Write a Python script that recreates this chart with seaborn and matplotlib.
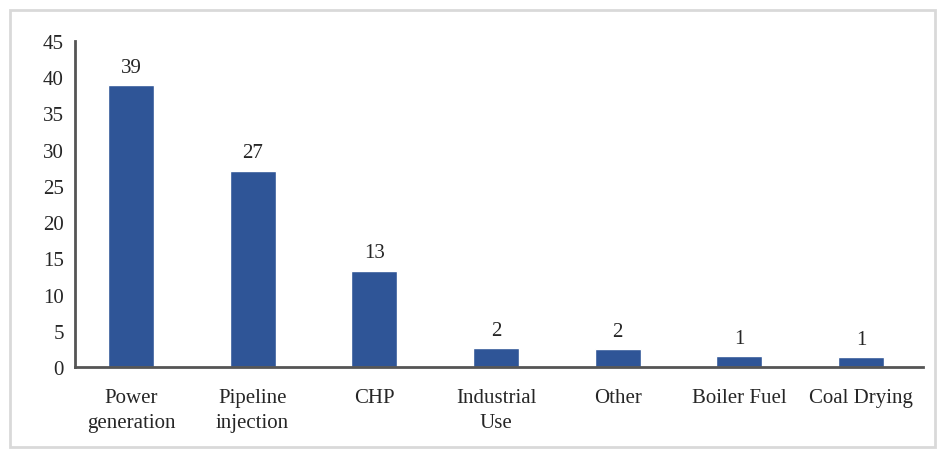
import seaborn as sns
import pandas as pd
import matplotlib.pyplot as plt
from matplotlib.patches import Rectangle

categories = ["Power\ngeneration", "Pipeline\ninjection", "CHP", "Industrial\nUse",
              "Other", "Boiler Fuel", "Coal Drying"]
values = [38.9, 27.1, 13.3, 2.6, 2.5, 1.5, 1.4]
value_labels = ["39", "27", "13", "2", "2", "1", "1"]
y_ticks = [0, 5, 10, 15, 20, 25, 30, 35, 40, 45]

df = pd.DataFrame({"use": categories, "count": values})

sns.set_style("white")
plt.rcParams["font.family"] = ["Liberation Serif", "DejaVu Serif"]

fig = plt.figure(figsize=(9.43, 4.52), dpi=100)
ax = fig.add_axes([75 / 943, 1 - 368 / 452, (923 - 75) / 943, (368 - 42) / 452])

sns.barplot(data=df, x="use", y="count", color="#2F5597", saturation=1,
            width=0.38, ax=ax)

ax.bar_label(ax.containers[0], labels=value_labels, padding=6, fontsize=15)

ax.set_xlim(-0.46, 6.51)
ax.set_ylim(0, 45)
ax.set_yticks(y_ticks)
ax.tick_params(axis="y", length=0, labelsize=15, pad=8)
ax.tick_params(axis="x", length=0, labelsize=15, pad=15)
for lbl in ax.get_xticklabels():
    lbl.set_linespacing(1.45)
ax.set_xlabel("")
ax.set_ylabel("")

for side in ["top", "right"]:
    ax.spines[side].set_visible(False)
for side in ["left", "bottom"]:
    ax.spines[side].set_color("#555555")
    ax.spines[side].set_linewidth(2)

fig.patches.append(Rectangle((10 / 943, 4 / 452), 925 / 943, 437 / 452,
                             transform=fig.transFigure, fill=False,
                             edgecolor="#d9d9d9", linewidth=2))

fig.savefig("out.png", dpi=100)
